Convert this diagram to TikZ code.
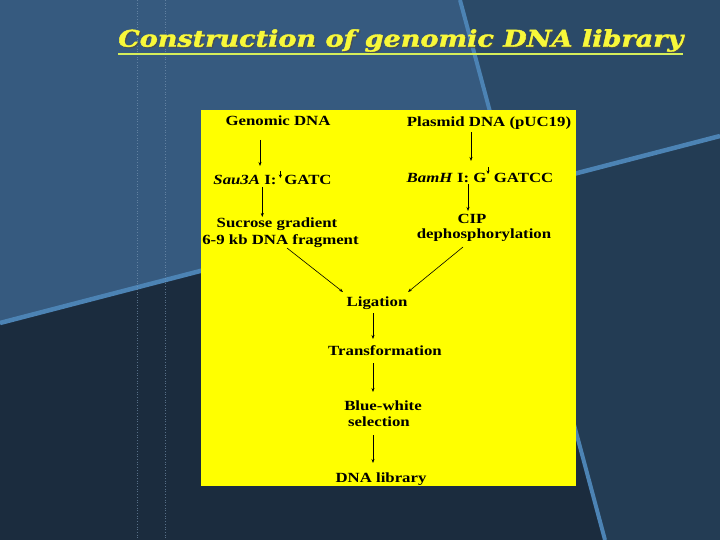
\documentclass[tikz,border=0pt]{standalone}
\usepackage{fontspec}
\usepackage{graphicx}
\usetikzlibrary{arrows.meta}
\newfontfamily\boxfont[FakeStretch=1.2]{Liberation Serif}
\newfontfamily\titlefont[BoldItalicFeatures={FakeBold=1.6}]{DejaVu Serif}
\definecolor{bgA}{HTML}{365A7F}
\definecolor{bgB}{HTML}{2B4A68}
\definecolor{bgC}{HTML}{1B2C3E}
\definecolor{bgD}{HTML}{233C54}
\definecolor{stripe}{HTML}{4C83B4}
\definecolor{titleyel}{HTML}{F8F83A}
\definecolor{ulcol}{HTML}{D6EE5A}
\definecolor{boxyel}{HTML}{FFFF00}
\definecolor{dotcol}{HTML}{7F9CB8}
\newcommand{\cutmark}[2]{\tikz[baseline=0pt]\draw[-{Stealth[length=3.5pt,width=3.2pt]}, line width=0.6pt, black] (0pt,#1) -- (0pt,#2);}
\tikzset{
  lbl/.style={anchor=base, inner sep=0pt, font=\boxfont\bfseries\fontsize{14}{16}\selectfont, text=black},
  arr/.style={-{Stealth[length=4pt,width=3pt]}, line width=0.6pt, black},
  stripeline/.style={line width=4.5pt, stripe},
  dotline/.style={dotted, line width=0.7pt, dotcol, opacity=0.6}
}
\begin{document}
\begin{tikzpicture}[x=1pt,y=-1pt]
\useasboundingbox (0,0) rectangle (720,540);
% background regions
\fill[bgA] (0,0) -- (460,0) -- (511.1,190.3) -- (0,323) -- cycle;
\fill[bgB] (460,0) -- (720,0) -- (720,136) -- (511.1,190.3) -- cycle;
\fill[bgC] (0,323) -- (511.1,190.3) -- (605,540) -- (0,540) -- cycle;
\fill[bgD] (511.1,190.3) -- (720,136) -- (720,540) -- (605,540) -- cycle;
% stripes
\draw[stripeline] (0,323) -- (720,136);
\draw[stripeline, line width=4pt] (460,0) -- (605,540);
% dotted guides
\draw[dotline] (137,0) -- (137,540);
\draw[dotline] (165,0) -- (165,540);
% title
\node[anchor=base west, inner sep=0pt, text=black!70, opacity=0.7] at (119.2,47.9)
  {\resizebox{565pt}{\height}{\titlefont\bfseries\itshape\fontsize{23}{26}\selectfont Construction of genomic DNA library}};
\node[anchor=base west, inner sep=0pt, text=titleyel] (title) at (118,46.7)
  {\resizebox{565pt}{\height}{\titlefont\bfseries\itshape\fontsize{23}{26}\selectfont Construction of genomic DNA library}};
\draw[ulcol, line width=2pt] (title.base west |- 0,54.2) -- (title.base east |- 0,54.2);
% yellow panel
\fill[boxyel] (201,110) rectangle (576,486);
% left column
\node[lbl] (gen) at (278,126) {Genomic DNA};
\node[lbl] (sau) at (272.5,185) {\textit{Sau3A} I:\,\cutmark{14pt}{7pt}\,GATC};
\node[lbl] (suc1) at (277,228) {Sucrose gradient};
\node[lbl] (suc2) at (280.5,244) {6-9 kb DNA fragment};
% right column
\node[lbl] (pla) at (489,126.5) {Plasmid DNA (pUC19)};
\node[lbl] (bam) at (480,183) {\textit{BamH} I: G\cutmark{16pt}{9pt}\ GATCC};
\node[lbl] (cip1) at (472,223) {CIP};
\node[lbl] (cip2) at (484,239) {dephosphorylation};
% centre
\node[lbl] (lig) at (377,306) {Ligation};
\node[lbl] (tra) at (385,355) {Transformation};
\node[lbl] (bw1) at (383,410) {Blue-white};
\node[lbl] (bw2) at (379,426.7) {selection};
\node[lbl] (lib) at (381,482.7) {DNA library};
% connectors
\draw[arr] ([shift={(-18,14)}]gen.base) -- ([shift={(-12.5,-19)}]sau.base);
\draw[arr] ([shift={(-10.2,2)}]sau.base) -- ([shift={(-14.7,-11)}]suc1.base);
\draw[arr] ([shift={(-18,5.5)}]pla.base) -- ([shift={(-9,-22)}]bam.base);
\draw[arr] ([shift={(-12,1.5)}]bam.base) -- ([shift={(-4,-12)}]cip1.base);
\draw[arr] ([shift={(6.5,4)}]suc2.base) -- ([shift={(-34,-14)}]lig.base);
\draw[arr] ([shift={(-21,8)}]cip2.base) -- ([shift={(31,-14)}]lig.base);
\draw[arr] ([shift={(-4,7)}]lig.base) -- ([shift={(-12,-16)}]tra.base);
\draw[arr] ([shift={(-12,8)}]tra.base) -- ([shift={(-10,-18)}]bw1.base);
\draw[arr] ([shift={(-6,8.3)}]bw2.base) -- ([shift={(-8,-19.7)}]lib.base);
\end{tikzpicture}
\end{document}
